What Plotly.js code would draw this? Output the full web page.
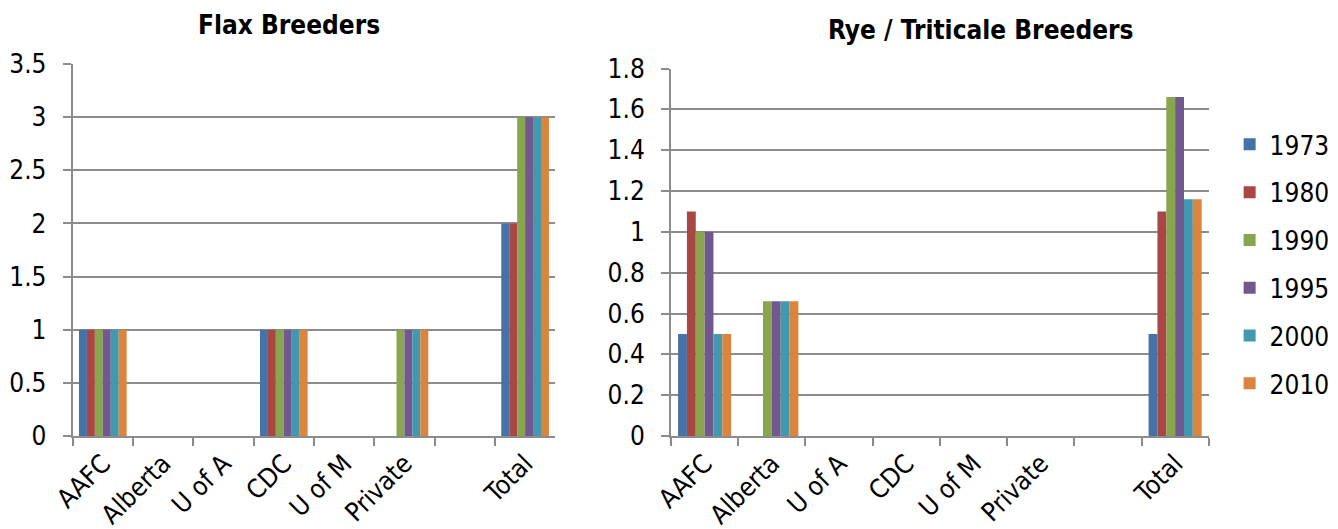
<!DOCTYPE html>
<html>
<head>
<meta charset="utf-8">
<script src="https://cdn.plot.ly/plotly-3.0.1.min.js"></script>
<style>html,body{margin:0;padding:0;background:#fff;}#chart{width:1338px;height:529px;}</style>
</head>
<body>
<div id="chart"></div>
<script>
const categories = ['AAFC', 'Alberta', 'U of A', 'CDC', 'U of M', 'Private', ' ', 'Total'];
const years = ['1973', '1980', '1990', '1995', '2000', '2010'];
const colors = ['#4572A7', '#AA4643', '#89A54E', '#71588F', '#4198AF', '#DB843D'];

// Flax Breeders, one array per year (values per category)
const flax1973 = [1, 0, 0, 1, 0, 0, 0, 2];
const flax1980 = [1, 0, 0, 1, 0, 0, 0, 2];
const flax1990 = [1, 0, 0, 1, 0, 1, 0, 3];
const flax1995 = [1, 0, 0, 1, 0, 1, 0, 3];
const flax2000 = [1, 0, 0, 1, 0, 1, 0, 3];
const flax2010 = [1, 0, 0, 1, 0, 1, 0, 3];

// Rye / Triticale Breeders
const rye1973 = [0.5, 0, 0, 0, 0, 0, 0, 0.5];
const rye1980 = [1.1, 0, 0, 0, 0, 0, 0, 1.1];
const rye1990 = [1, 0.66, 0, 0, 0, 0, 0, 1.66];
const rye1995 = [1, 0.66, 0, 0, 0, 0, 0, 1.66];
const rye2000 = [0.5, 0.66, 0, 0, 0, 0, 0, 1.16];
const rye2010 = [0.5, 0.66, 0, 0, 0, 0, 0, 1.16];

const flaxSeries = [flax1973, flax1980, flax1990, flax1995, flax2000, flax2010];
const ryeSeries = [rye1973, rye1980, rye1990, rye1995, rye2000, rye2010];

const FONT = 'DejaVu Sans Condensed, DejaVu Sans, sans-serif';
const traces = [];
years.forEach((yr, i) => {
  traces.push({
    type: 'bar', x: categories, y: flaxSeries[i], name: yr,
    marker: {color: colors[i]}, xaxis: 'x', yaxis: 'y',
    legendgroup: yr, showlegend: false, hoverinfo: 'skip'
  });
});
years.forEach((yr, i) => {
  traces.push({
    type: 'bar', x: categories, y: ryeSeries[i], name: yr,
    marker: {color: colors[i]}, xaxis: 'x2', yaxis: 'y2',
    legendgroup: yr, showlegend: true, hoverinfo: 'skip'
  });
});

const gridc = '#8c8c8c';
const axisCommon = {
  showline: true, linecolor: gridc, linewidth: 2,
  ticks: 'outside', ticklen: 8, tickcolor: gridc, tickwidth: 2,
  tickfont: {family: FONT, size: 26, color: '#000'}
};
const xCommon = Object.assign({}, axisCommon, {
  type: 'category', categoryorder: 'array', categoryarray: categories,
  tickangle: -45, tickson: 'boundaries', showgrid: false, fixedrange: true
});
const yCommon = Object.assign({}, axisCommon, {
  showgrid: true, gridcolor: gridc, gridwidth: 2, zeroline: false, fixedrange: true,
  ticklabelstandoff: 11
});

const layout = {
  width: 1338, height: 529,
  margin: {l: 0, r: 0, t: 0, b: 0},
  paper_bgcolor: '#fff', plot_bgcolor: '#fff',
  barmode: 'group', bargap: 0.21, bargroupgap: 0,
  showlegend: true,
  legend: {
    x: 0.919, xanchor: 'left', y: 0.501, yanchor: 'middle',
    font: {family: FONT, size: 26, color: '#000'},
    traceorder: 'grouped', tracegroupgap: 11, itemwidth: 30
  },
  xaxis: Object.assign({}, xCommon, {domain: [0.0543, 0.415], anchor: 'y'}),
  yaxis: Object.assign({}, yCommon, {domain: [0.1758, 0.879], range: [0, 3.5], dtick: 0.5, anchor: 'x'}),
  xaxis2: Object.assign({}, xCommon, {domain: [0.5015, 0.9034], anchor: 'y2'}),
  yaxis2: Object.assign({}, yCommon, {domain: [0.1758, 0.8705], range: [0, 1.8], dtick: 0.2, anchor: 'x2'}),
  annotations: [
    {text: '<b>Flax Breeders</b>', xref: 'paper', yref: 'paper', x: 0.2160, y: 0.9527,
     xanchor: 'center', yanchor: 'middle', showarrow: false,
     font: {family: FONT, size: 26, color: '#000'}},
    {text: '<b>Rye / Triticale Breeders</b>', xref: 'paper', yref: 'paper', x: 0.7330, y: 0.943,
     xanchor: 'center', yanchor: 'middle', showarrow: false,
     font: {family: FONT, size: 26, color: '#000'}}
  ]
};

Plotly.newPlot('chart', traces, layout, {displayModeBar: false, staticPlot: true});
</script>
</body>
</html>
